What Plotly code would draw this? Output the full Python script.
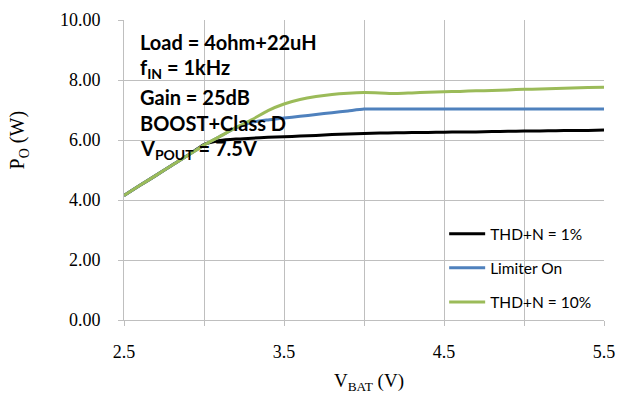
import plotly.graph_objects as go

vbat = [2.5, 2.6, 2.7, 2.8, 2.9, 3.0, 3.1, 3.2, 3.3, 3.4, 3.5, 3.6, 3.7, 3.8, 3.9, 4.0,
        4.1, 4.2, 4.3, 4.4, 4.5, 4.6, 4.7, 4.8, 4.9, 5.0, 5.1, 5.2, 5.3, 5.4, 5.5]

thd1 = [4.15, 4.49, 4.82, 5.16, 5.49, 5.85, 5.98, 6.03, 6.06, 6.09, 6.11, 6.13, 6.15, 6.18, 6.20, 6.22,
        6.23, 6.24, 6.25, 6.25, 6.26, 6.27, 6.27, 6.28, 6.29, 6.30, 6.30, 6.31, 6.32, 6.32, 6.33]

limiter = [4.15, 4.49, 4.82, 5.16, 5.49, 5.83, 6.12, 6.40, 6.59, 6.67, 6.73, 6.79, 6.85, 6.91, 6.97, 7.03,
           7.03, 7.03, 7.03, 7.03, 7.03, 7.03, 7.03, 7.03, 7.03, 7.03, 7.03, 7.03, 7.03, 7.03, 7.03]

thd10 = [4.15, 4.49, 4.82, 5.16, 5.49, 5.83, 6.12, 6.42, 6.68, 6.98, 7.20, 7.35, 7.45, 7.52, 7.56, 7.58,
         7.57, 7.55, 7.57, 7.59, 7.61, 7.62, 7.64, 7.65, 7.67, 7.69, 7.70, 7.72, 7.73, 7.75, 7.76]

series = [("THD+N = 1%", thd1, "#000000"),
          ("Limiter On", limiter, "#4F81BD"),
          ("THD+N = 10%", thd10, "#9BBB59")]

x_tickvals = [2.5, 3.0, 3.5, 4.0, 4.5, 5.0, 5.5]
x_ticktext = ["2.5", "", "3.5", "", "4.5", "", "5.5"]
y_tickvals = [0, 2, 4, 6, 8, 10]
y_ticktext = ["0.00", "2.00", "4.00", "6.00", "8.00", "10.00"]

notes = ["Load = 4ohm+22uH", "f<sub>IN</sub> = 1kHz", "Gain = 25dB",
         "BOOST+Class D", "V<sub>POUT</sub> = 7.5V"]
note_y = [0.927, 0.84, 0.744, 0.656, 0.567]

fig = go.Figure()
for i, (name, vals, col) in enumerate(series):
    fig.add_trace(go.Scatter(x=vbat, y=vals, name=name, mode="lines",
                             legendgroup=str(i),
                             line=dict(color=col, width=3, shape="spline", smoothing=0.6)))

grid = "#BFBFBF"
serif = "Liberation Serif"
fig.update_layout(
    width=619, height=394,
    margin=dict(l=124, r=15, t=20, b=74, autoexpand=False),
    paper_bgcolor="white", plot_bgcolor="white",
    showlegend=True,
    legend=dict(x=0.667, y=0.343, xanchor="left", yanchor="top",
                font=dict(family="Lato", size=15.5, color="#000000"),
                itemwidth=36,
                tracegroupgap=11, bgcolor="rgba(0,0,0,0)"),
    xaxis=dict(range=[2.5, 5.5], tickmode="array", tickvals=x_tickvals, ticktext=x_ticktext,
               automargin=False,
               showgrid=True, gridcolor=grid, gridwidth=1,
               showline=True, linecolor=grid, linewidth=1, mirror=False,
               ticks="outside", ticklen=5, tickcolor=grid,
               ticklabelstandoff=10,
               tickfont=dict(family=serif, size=18, color="#000000"), zeroline=False),
    yaxis=dict(range=[0, 10], tickmode="array", tickvals=y_tickvals, ticktext=y_ticktext,
               automargin=False,
               showgrid=True, gridcolor=grid, gridwidth=1,
               showline=True, linecolor=grid, linewidth=1,
               ticks="outside", ticklen=5, tickcolor=grid,
               ticklabelstandoff=14,
               tickfont=dict(family=serif, size=18, color="#000000"), zeroline=False),
)

for t, yy in zip(notes, note_y):
    fig.add_annotation(text=t, xref="paper", yref="paper", x=0.029, y=yy,
                       xanchor="left", yanchor="middle", showarrow=False,
                       font=dict(family="Lato", size=20, color="#000000", weight="bold"))

fig.add_annotation(text="V<sub>BAT</sub> (V)", xref="paper", yref="paper",
                   x=0.51, y=-0.205, xanchor="center", yanchor="middle", showarrow=False,
                   font=dict(family=serif, size=19, color="#000000"))
fig.add_annotation(text="P<sub>O</sub> (W)", xref="paper", yref="paper",
                   x=-0.22, y=0.6, xanchor="center", yanchor="middle", showarrow=False,
                   textangle=-90,
                   font=dict(family=serif, size=20, color="#000000"))

fig.write_html("out.html", config={"displayModeBar": False},
               post_script="document.body.style.margin='0';")
